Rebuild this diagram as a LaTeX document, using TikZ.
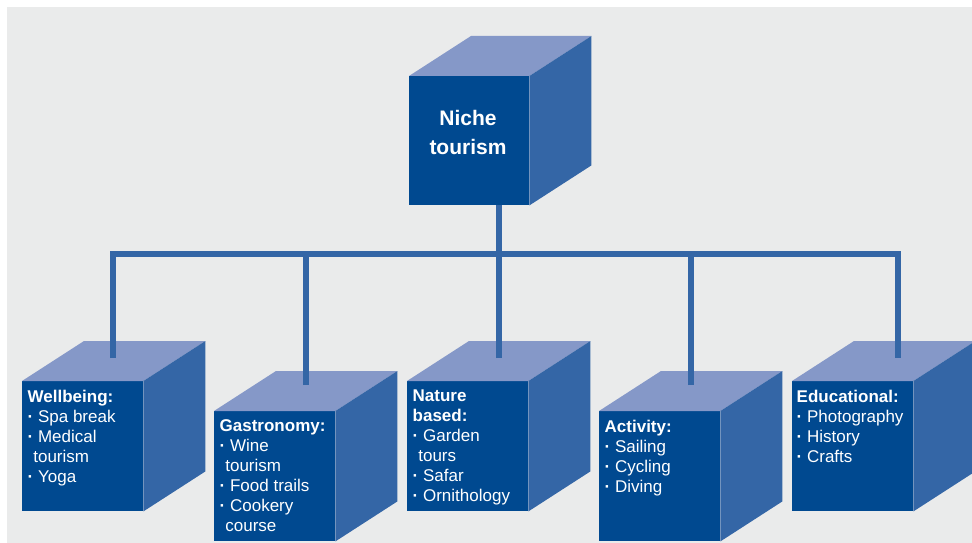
\documentclass[tikz,border=0pt]{standalone}
\usepackage{fontspec}
\setmainfont{Liberation Sans}
\usetikzlibrary{calc}
\definecolor{bgc}{HTML}{EAEBEB}
\definecolor{frontc}{HTML}{004990}
\definecolor{topc}{HTML}{8598C8}
\definecolor{sidec}{HTML}{3466A6}
\definecolor{linec}{HTML}{3466A6}
\newcommand\cubefaces[1]{%
  \fill[topface] (#1.north west) -- (#1.north east) -- ($(#1.north east)+(62,-40)$) -- ($(#1.north west)+(62,-40)$) -- cycle;
  \fill[sideface] (#1.north east) -- ($(#1.north east)+(62,-40)$) -- ($(#1.south east)+(62,-40)$) -- (#1.south east) -- cycle;}
\newcommand\bul{\textbf{·} }
\newcommand\ind{\phantom{\textbf{·}}}
\begin{document}
\begin{tikzpicture}[x=1pt,y=-1pt,
  front/.style={fill=frontc, draw=none, inner sep=0, anchor=north west, minimum width=121pt, minimum height=130pt},
  topface/.style={fill=topc},
  sideface/.style={fill=sidec},
  conn/.style={draw=linec, line width=6pt, line join=miter, line cap=butt},
  lbl/.style={anchor=north west, inner sep=0, text=white, align=left, font=\fontsize{17}{20}\selectfont},
  ttl/.style={text=white, align=center, font=\fontsize{21}{29}\selectfont\bfseries, inner sep=0}]
\useasboundingbox (0,0) rectangle (972,543);
\clip (0,0) rectangle (972,543);
\fill[bgc] (7,7) rectangle (972,543);
% cubes
\node[front, minimum width=120pt, minimum height=129pt] (top) at (409,76) {};
\cubefaces{top}
\node[front] (wb) at (22,381) {};
\cubefaces{wb}
\node[front] (gas) at (214,411) {};
\cubefaces{gas}
\node[front] (nat) at (407,381) {};
\cubefaces{nat}
\node[front] (act) at (599,411) {};
\cubefaces{act}
\node[front] (edu) at (792,381) {};
\cubefaces{edu}
% connector points
\coordinate (hub) at (499,254);
\coordinate (wbend) at (113,358);
\coordinate (gasend) at (306,385);
\coordinate (natend) at (499,358);
\coordinate (actend) at (691,385);
\coordinate (eduend) at (898,358);
% connectors
\draw[conn] (hub |- top.south) -- (hub);
\draw[conn] (wbend) -- (wbend |- hub) -- (eduend |- hub) -- (eduend);
\draw[conn] (gasend) -- (gasend |- hub);
\draw[conn] (natend) -- (natend |- hub);
\draw[conn] (actend) -- (actend |- hub);
% texts
\node[ttl, anchor=north] (toptxt) at (468,110.5) {Niche\\tourism};
\node[lbl] (wbtxt) at ($(wb.north west)+(5.5,8.8)$) {\textbf{Wellbeing:}\\\bul Spa break\\\bul Medical\\\ind tourism\\\bul Yoga};
\node[lbl] (gastxt) at ($(gas.north west)+(5.5,8.8)$) {\textbf{Gastronomy:}\\\bul Wine\\\ind tourism\\\bul Food trails\\\bul Cookery\\\ind course};
\node[lbl] (nattxt) at ($(nat.north west)+(5.5,8.8)$) {\textbf{Nature}\\\textbf{based:}\\\bul Garden\\\ind tours\\\bul Safar\\\bul Ornithology};
\node[lbl] (acttxt) at ($(act.north west)+(5.5,8.8)$) {\textbf{Activity:}\\\bul Sailing\\\bul Cycling\\\bul Diving};
\node[lbl] (edutxt) at ($(edu.north west)+(4.5,8.8)$) {\textbf{Educational:}\\\bul Photography\\\bul History\\\bul Crafts};
\end{tikzpicture}
\end{document}
